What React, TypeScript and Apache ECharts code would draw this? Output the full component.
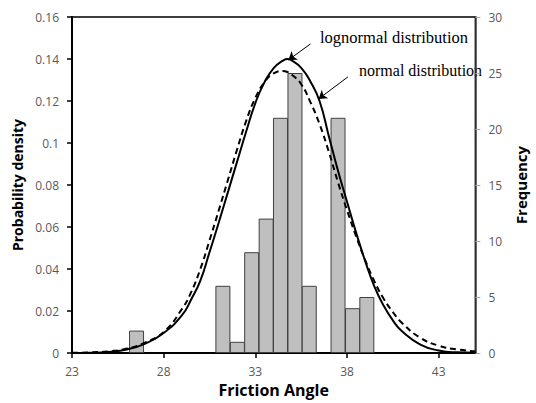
import React, { useEffect, useRef } from "react";
import * as echarts from "echarts";

// Histogram bins (centre of each bin, bin width ~0.785)
const binCenters = [26.52, 31.23, 32.02, 32.8, 33.59, 34.37, 35.16, 35.94, 37.51, 38.3, 39.08];
const frequencies = [2, 6, 1, 9, 12, 21, 25, 6, 21, 4, 5];

// Fitted curves
const curveX = [23, 24, 25, 26, 27, 28, 29, 29.5, 30, 30.5, 31, 31.5, 32, 32.5, 33, 33.5, 34, 34.5, 34.75, 35, 35.5, 36, 36.5, 37, 37.5, 38, 38.5, 39, 39.5, 40, 40.5, 41, 42, 43, 44, 45];
const lognormalPdf = [0.00002, 0.0001, 0.0005, 0.0017, 0.0045, 0.0095, 0.018, 0.0255, 0.0345, 0.048, 0.062, 0.0765, 0.091, 0.1055, 0.119, 0.129, 0.1357, 0.1392, 0.14, 0.1392, 0.1358, 0.1293, 0.12, 0.1035, 0.087, 0.072, 0.0572, 0.0435, 0.0315, 0.0225, 0.0155, 0.0103, 0.004, 0.0012, 0.0003, 0.0001];
const normalPdf = [0.0001, 0.0003, 0.0008, 0.0021, 0.005, 0.01, 0.021, 0.029, 0.04, 0.0536, 0.0678, 0.0823, 0.0968, 0.1105, 0.1215, 0.129, 0.1332, 0.1343, 0.1338, 0.1325, 0.128, 0.1195, 0.109, 0.096, 0.0815, 0.068, 0.0555, 0.044, 0.034, 0.0258, 0.0195, 0.0143, 0.0072, 0.0035, 0.0017, 0.0008];

const xTicks = [23, 28, 33, 38, 43];

export default function App() {
  const ref = useRef<HTMLDivElement>(null);
  useEffect(() => {
    if (!ref.current) return;
    const chart = echarts.init(ref.current, null, { renderer: "svg" });
    const sans = "Open Sans";
    chart.setOption({
      animation: false,
      backgroundColor: "#fff",
      grid: { left: 72, right: 43, top: 17, bottom: 48.5, show: true, borderColor: "#000", borderWidth: 1.5 },
      xAxis: {
        type: "value",
        min: 23,
        max: 45,
        name: "Friction Angle",
        nameLocation: "middle",
        nameGap: 29,
        nameTextStyle: { fontFamily: sans, fontWeight: "bold", fontSize: 16, color: "#000" },
        axisLine: { show: true, lineStyle: { color: "#000", width: 2 } },
        axisTick: { show: true, length: 5, lineStyle: { color: "#000", width: 1.5 }, customValues: xTicks },
        axisLabel: { customValues: xTicks, margin: 12, fontFamily: sans, fontSize: 12, color: "#595959" },
        splitLine: { show: false },
      },
      yAxis: [
        {
          type: "value",
          min: 0,
          max: 0.16,
          interval: 0.02,
          name: "Probability density",
          nameLocation: "middle",
          nameRotate: 90,
          nameGap: 36,
          nameTextStyle: { fontFamily: sans, fontWeight: "bold", fontSize: 14, color: "#000" },
          axisLine: { show: true, lineStyle: { color: "#000", width: 2 } },
          axisTick: { show: true, length: 5, lineStyle: { color: "#000", width: 1.5 } },
          axisLabel: { margin: 13, fontFamily: sans, fontSize: 12, color: "#595959" },
          splitLine: { show: false },
        },
        {
          type: "value",
          position: "right",
          min: 0,
          max: 30,
          interval: 5,
          name: "Frequency",
          nameLocation: "middle",
          nameRotate: 90,
          nameGap: 27,
          nameTextStyle: { fontFamily: sans, fontWeight: "bold", fontSize: 15, color: "#000" },
          axisLine: { show: true, lineStyle: { color: "#404040", width: 1.5 } },
          axisTick: { show: true, length: 5, lineStyle: { color: "#a6a6a6", width: 1 } },
          axisLabel: { margin: 13, fontFamily: sans, fontSize: 12, color: "#595959" },
          splitLine: { show: false },
        },
      ],
      series: [
        {
          type: "bar",
          yAxisIndex: 1,
          barWidth: 15,
          data: binCenters.map((c, i) => [c, frequencies[i]]),
          itemStyle: { color: "#BFBFBF", borderColor: "#404040", borderWidth: 1 },
          z: 1,
        },
        {
          type: "line",
          name: "lognormal",
          yAxisIndex: 0,
          smooth: true,
          showSymbol: false,
          data: curveX.map((x, i) => [x, lognormalPdf[i]]),
          lineStyle: { color: "#000", width: 2, type: "solid" },
          z: 3,
          markLine: {
            silent: true,
            symbol: ["none", "arrow"],
            symbolSize: 8,
            label: { show: false },
            lineStyle: { color: "#000", width: 1, type: "solid" },
            data: [
              [{ coord: [36.01, 0.1472] }, { coord: [34.8, 0.1395] }],
              [{ coord: [38.05, 0.1315] }, { coord: [36.45, 0.121] }],
            ],
          },
        },
        {
          type: "line",
          name: "normal",
          yAxisIndex: 0,
          smooth: true,
          showSymbol: false,
          data: curveX.map((x, i) => [x, normalPdf[i]]),
          lineStyle: { color: "#000", width: 2, type: [6, 4] },
          z: 3,
        },
      ],
      graphic: [
        {
          type: "text",
          x: 320,
          y: 37,
          style: { text: "lognormal distribution", fontFamily: "Liberation Serif", fontSize: 16.5, fill: "#000", textVerticalAlign: "middle" },
        },
        {
          type: "text",
          x: 359,
          y: 70,
          style: { text: "normal distribution", fontFamily: "Liberation Serif", fontSize: 16, fill: "#000", textVerticalAlign: "middle" },
        },
      ],
    });
    return () => chart.dispose();
  }, []);
  return <div ref={ref} style={{ position: "absolute", left: 0, top: 0, width: 536, height: 403 }} />;
}
